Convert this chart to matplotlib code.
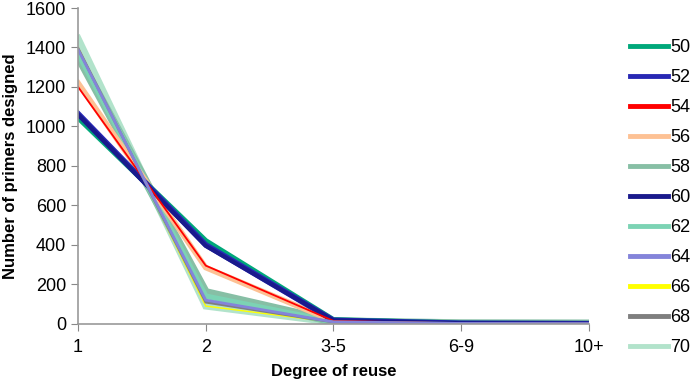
import numpy as np
import matplotlib.pyplot as plt
from matplotlib.lines import Line2D

plt.rcParams['font.family'] = ['Liberation Sans', 'DejaVu Sans']

# --- data ---
categories = ['1', '2', '3-5', '6-9', '10+']
lengths = ['50', '52', '54', '56', '58', '60', '62', '64', '66', '68', '70']

s50 = [1045, 420, 20, 3, 1]
s52 = [1065, 400, 18, 3, 1]
s54 = [1200, 295, 15, 2, 1]
s56 = [1220, 285, 14, 2, 1]
s58 = [1355, 160, 12, 2, 1]
s60 = [1060, 395, 18, 3, 1]
s62 = [1370, 140, 10, 2, 1]
s64 = [1390, 120, 10, 2, 1]
s66 = [1400, 90, 8, 2, 1]
s68 = [1395, 110, 9, 2, 1]
s70 = [1445, 90, 8, 2, 1]

series = [s50, s52, s54, s56, s58, s60, s62, s64, s66, s68, s70]

colors = ['#00A87A', '#2828B4', '#FF0000', '#FDC194', '#87BFA5', '#1A1A8C',
          '#7CD3B4', '#8484DA', '#FFFF00', '#7F7F7F', '#B2E3CB']
widths = [4, 4, 1.3, 4, 6, 3, 4, 2.0, 1.0, 2.0, 5]
# draw order roughly as in the picture (thick pale ones underneath)
order = [10, 4, 8, 6, 3, 0, 1, 5, 2, 9, 7]

fig = plt.figure(figsize=(6.91, 3.81), dpi=100)
ax = fig.add_axes([0.113, 0.150, 0.739, 0.829])

x = np.arange(len(categories))
for i in order:
    ax.plot(x, series[i], color=colors[i], lw=widths[i], solid_joinstyle='miter')

ax.set_xlim(0, len(categories) - 1)
ax.set_ylim(0, 1600)
ax.set_yticks(range(0, 1601, 200))
ax.set_xticks(x)
ax.set_xticklabels(categories)
ax.tick_params(labelsize=13, color='#888888', length=5, direction='out')
ax.tick_params(axis='x', pad=6)
for sp in ['top', 'right']:
    ax.spines[sp].set_visible(False)
for sp in ['left', 'bottom']:
    ax.spines[sp].set_color('#999999')
    ax.spines[sp].set_linewidth(1.2)

ax.set_xlabel('Degree of reuse', fontsize=12, fontweight='bold', labelpad=6)
ax.set_ylabel('Number of primers designed', fontsize=12, fontweight='bold', labelpad=6)

handles = [Line2D([0], [0], color=colors[i], lw=3.5) for i in range(len(lengths))]
fig.legend(handles, lengths, loc='upper left', bbox_to_anchor=(0.912, 0.897),
           frameon=False, fontsize=13, handlelength=2.1, handletextpad=0.1,
           labelspacing=0.72, borderaxespad=0, borderpad=0)

fig.savefig('out.png', dpi=100)
